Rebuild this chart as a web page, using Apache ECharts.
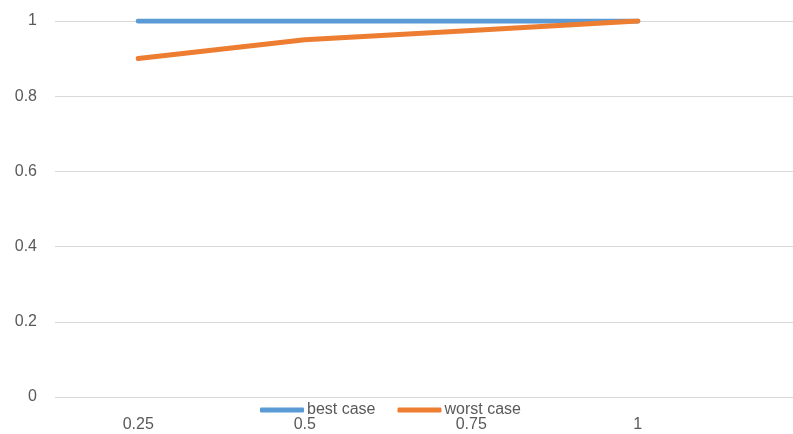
<!DOCTYPE html>
<html>
<head>
<meta charset="utf-8">
<script src="https://cdn.jsdelivr.net/npm/echarts@6/dist/echarts.min.js"></script>
<style>
  html, body { margin: 0; padding: 0; background: #fff; }
  #chart { width: 793px; height: 434px; }
</style>
</head>
<body>
<div id="chart"></div>
<script>
// X positions (also used as tick labels)
const xValues = [0.25, 0.5, 0.75, 1];
const xTickLabels = ['0.25', '0.5', '0.75', '1'];
// Series values
const bestCase = [1, 1, 1, 1];
const worstCase = [0.9, 0.95, 0.975, 1];
// Axis ranges
const xMin = 0.125, xMax = 1.233, xStep = 0.125;
const yMin = 0, yMax = 1, yStep = 0.2;

const textColor = '#595959';
const font = '"Liberation Sans", Arial, sans-serif';

const pair = (vals) => xValues.map((x, i) => [x, vals[i]]);

const chart = echarts.init(document.getElementById('chart'), null, { renderer: 'canvas' });
chart.setOption({
  animation: false,
  backgroundColor: '#ffffff',
  grid: { left: 55, right: 0, top: 21, bottom: 37, containLabel: false },
  legend: {
    data: [
      { name: 'best case', icon: 'roundRect' },
      { name: 'worst case', icon: 'roundRect' }
    ],
    left: 255,
    top: 397,
    itemWidth: 44,
    itemHeight: 5,
    itemGap: 22,
    textStyle: { color: textColor, fontSize: 16, fontFamily: font, padding: [0, 0, 0, -2] }
  },
  xAxis: {
    type: 'value',
    min: xMin,
    max: xMax,
    interval: xStep,
    axisLine: { show: false },
    axisTick: { show: false },
    axisLabel: {
      color: textColor, fontSize: 16, fontFamily: font, margin: 20,
      showMinLabel: false, showMaxLabel: false,
      formatter: (v) => {
        const i = xValues.findIndex((x) => Math.abs(x - v) < 1e-6);
        return i >= 0 ? xTickLabels[i] : '';
      }
    },
    splitLine: { show: false }
  },
  yAxis: {
    type: 'value',
    min: yMin,
    max: yMax,
    interval: yStep,
    axisLine: { show: false },
    axisTick: { show: false },
    axisLabel: { color: textColor, fontSize: 16, fontFamily: font, margin: 18 },
    splitLine: { lineStyle: { color: '#d9d9d9', width: 1 } }
  },
  series: [
    {
      name: 'best case',
      type: 'line',
      data: pair(bestCase),
      showSymbol: false,
      symbol: 'none',
      itemStyle: { color: '#5b9bd5' },
      lineStyle: { color: '#5b9bd5', width: 5, cap: 'round', join: 'round' }
    },
    {
      name: 'worst case',
      type: 'line',
      data: pair(worstCase),
      showSymbol: false,
      symbol: 'none',
      itemStyle: { color: '#ed7d31' },
      lineStyle: { color: '#ed7d31', width: 5, cap: 'round', join: 'round' }
    }
  ]
});
</script>
</body>
</html>
